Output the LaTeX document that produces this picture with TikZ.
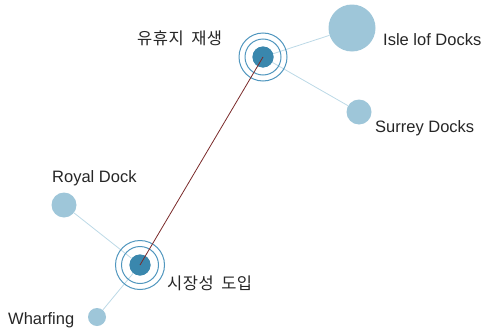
\documentclass[tikz,border=0pt]{standalone}
\usepackage{fontspec}
\setmainfont{Liberation Sans}
\newfontfamily\kofont[LetterSpace=3,WordSpace=1.8]{Noto Sans CJK KR}
\definecolor{leaf}{HTML}{9EC6D9}
\definecolor{hub}{HTML}{3A87AD}
\definecolor{ring}{HTML}{5096BE}
\definecolor{edge}{HTML}{BCD9E6}
\definecolor{link}{HTML}{7A2A2A}
\begin{document}
\begin{tikzpicture}[x=1pt,y=-1pt,
  leafnode/.style={circle,fill=leaf,inner sep=0pt,minimum size=#1},
  hubnode/.style={circle,fill=hub,inner sep=0pt,minimum size=21pt},
  lbl/.style={font=\fontsize{16.5}{18}\selectfont,text=black!85,inner sep=0pt,anchor=west},
  klbl/.style={font=\kofont\fontsize{16.5}{18}\selectfont,text=black!85,inner sep=0pt,anchor=west},
  edgeline/.style={draw=edge,line width=0.8pt},
  ringline/.style={draw=ring,line width=1pt}]
\useasboundingbox (0,0) rectangle (484,332);
\node[hubnode] (h1) at (263,57) {};
\node[hubnode] (h2) at (140,265) {};
\node[leafnode=47pt] (isle) at (352,28) {};
\node[leafnode=25pt] (surrey) at (359,112) {};
\node[leafnode=25pt] (royal) at (64,205) {};
\node[leafnode=18pt] (wharf) at (97,317) {};
\draw[edgeline] (h1) -- (isle);
\draw[edgeline] (h1) -- (surrey);
\draw[edgeline] (h2) -- (royal);
\draw[edgeline] (h2) -- (wharf);
\draw[ringline] (h1.center) circle[radius=18];
\draw[ringline] (h1.center) circle[radius=24];
\draw[ringline] (h2.center) circle[radius=18.5];
\draw[ringline] (h2.center) circle[radius=24.5];
\node[hubnode] at (h1) {};
\node[hubnode] at (h2) {};
\draw[draw=link,line width=0.8pt] (h1.center) -- (h2.center);
\node[klbl] (l1) at (137,38) {유휴지 재생};
\node[klbl] (l2) at (167,283) {시장성 도입};
\node[lbl] (l3) at (383,40) {Isle lof Docks};
\node[lbl] (l4) at (375,128) {Surrey Docks};
\node[lbl] (l5) at (52,178) {Royal Dock};
\node[lbl] (l6) at (8,320) {Wharfing};
\end{tikzpicture}
\end{document}
